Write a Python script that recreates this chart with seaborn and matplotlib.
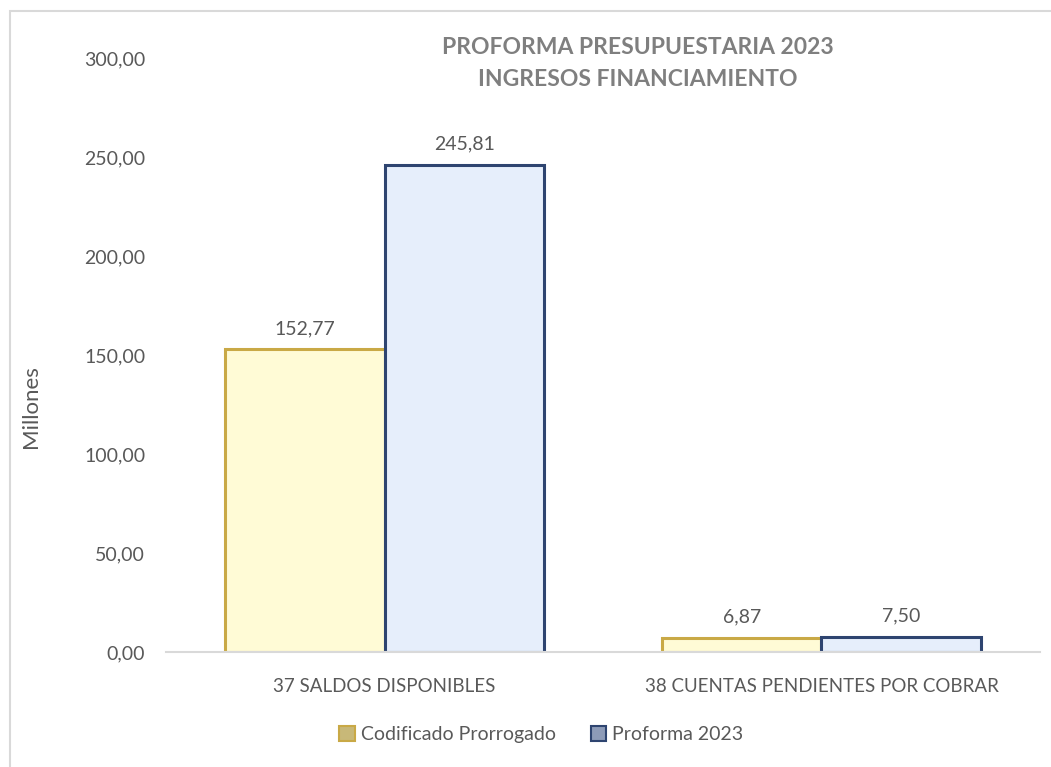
import matplotlib.pyplot as plt
import matplotlib.patheffects as pe
import numpy as np
import pandas as pd
import seaborn as sns
from matplotlib.patches import Patch, Rectangle

categories = ["37 SALDOS DISPONIBLES", "38 CUENTAS PENDIENTES POR COBRAR"]
series = ["Codificado Prorrogado", "Proforma 2023"]
codificado = [152.77, 6.87]
proforma = [245.81, 7.50]
yticks = [0, 50, 100, 150, 200, 250, 300]

df = pd.DataFrame({
    "categoria": categories * 2,
    "serie": [series[0]] * 2 + [series[1]] * 2,
    "valor": codificado + proforma,
})

fills = ["#FFFBD6", "#E6EEFB"]
edges = ["#C9A946", "#2E4470"]
legend_fills = ["#C8B878", "#8D9BB8"]

sns.set_theme(style="white")
plt.rcParams["font.family"] = ["Lato", "DejaVu Sans"]
text_gray = "#595959"

fig = plt.figure(figsize=(10.51, 7.67), dpi=100)
ax = fig.add_axes([0.158, 0.15, 0.8315, 0.7744])

sns.barplot(data=df, x="categoria", y="valor", hue="serie", palette=fills,
            width=0.73, gap=0, ax=ax, legend=False, saturation=1)

# edge + light bevel-like shadow on the bars
for container, ec in zip(ax.containers, edges):
    for bar in container:
        bar.set_edgecolor(ec)
        bar.set_linewidth(2.2)
        bar.set_path_effects([pe.SimplePatchShadow(offset=(1.5, -1.5), shadow_rgbFace="#7F7F7F", alpha=0.5),
                              pe.Normal()])
    ax.bar_label(container, labels=[f"{v:.2f}".replace(".", ",") for v in container.datavalues],
                 padding=9, fontsize=14, color=text_gray)

ax.set_ylim(0, 300)
ax.set_xlim(-0.5, 1.5)
ax.set_yticks(yticks)
ax.set_yticklabels([f"{t:.2f}".replace(".", ",") for t in yticks], fontsize=14, color=text_gray)
ax.tick_params(axis="x", labelsize=13.5, labelcolor=text_gray, pad=19, length=0)
ax.tick_params(axis="y", pad=15, length=0)
ax.set_xlabel("")
ax.set_ylabel("Millones", fontsize=16, color=text_gray)
ax.yaxis.set_label_coords(-0.143, 0.413)

for side in ["top", "right", "left"]:
    ax.spines[side].set_visible(False)
ax.spines["bottom"].set_color("#D9D9D9")
ax.spines["bottom"].set_linewidth(1.5)
ax.patch.set_alpha(0)

fig.text(0.607, 0.917, "PROFORMA PRESUPUESTARIA 2023\nINGRESOS FINANCIAMIENTO",
         ha="center", va="center", fontsize=16.5, fontweight="bold",
         color="#7F7F7F", linespacing=1.65)

handles = [Patch(facecolor=f, edgecolor=e, linewidth=1.5) for f, e in zip(legend_fills, edges)]
fig.legend(handles, series, loc="center", bbox_to_anchor=(0.515, 0.042), ncol=2,
           frameon=False, fontsize=14, labelcolor=text_gray, handlelength=0.8,
           handleheight=0.8, handletextpad=0.3, columnspacing=1.8)

fig.patches.append(Rectangle((0.0095, -0.05), 1.2, 1.0357, transform=fig.transFigure,
                             fill=False, edgecolor="#D9D9D9", linewidth=1.5))

fig.savefig("out.png", dpi=100)
